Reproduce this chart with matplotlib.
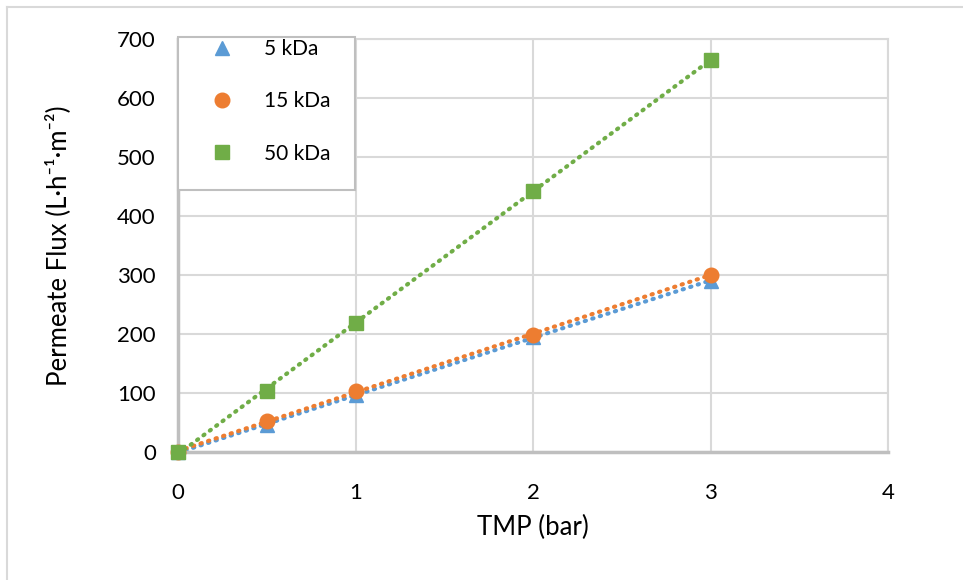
import numpy as np
import matplotlib.pyplot as plt
from matplotlib.lines import Line2D
from matplotlib.patches import Rectangle

plt.rcParams['font.family'] = ['Lato', 'DejaVu Sans']

# data
tmp = [0, 0.5, 1, 2, 3]
flux_5 = [0, 45, 97, 195, 290]
flux_15 = [0, 52, 104, 199, 300]
flux_50 = [0, 104, 218, 442, 665]
labels = ["5 kDa", "15 kDa", "50 kDa"]
colors = ["#5B9BD5", "#ED7D31", "#70AD47"]
markers = ["^", "o", "s"]

W, H = 963, 580
fig = plt.figure(figsize=(W / 100, H / 100), dpi=100)
ax = fig.add_axes([178 / W, 1 - 452 / H, (888 - 178) / W, (452 - 39) / H])

# light frame round the figure (top and left only)
fig.add_artist(Line2D([7 / W, 1], [1 - 7 / H, 1 - 7 / H], color="#d9d9d9", lw=1.5))
fig.add_artist(Line2D([7 / W, 7 / W], [0, 1 - 7 / H], color="#d9d9d9", lw=1.5))

series = [flux_5, flux_15, flux_50]
handles = []
for y, lab, c, m in zip(series, labels, colors, markers):
    # linear trendline
    k, b = np.polyfit(tmp, y, 1)
    xs = np.array([tmp[0], tmp[-1]])
    ax.plot(xs, k * xs + b, ls=(0, (0.3, 1.6)), lw=3, color=c,
            dash_capstyle="round", zorder=2)
    h, = ax.plot(tmp, y, ls="none", marker=m, ms=10.5, color=c, zorder=3,
                 label=lab, clip_on=False)
    handles.append(h)

ax.set_xlim(0, 4)
ax.set_ylim(0, 700)
ax.set_xticks([0, 1, 2, 3, 4])
ax.set_yticks(range(0, 701, 100))
ax.grid(True, color="#d9d9d9", lw=1.5)
ax.set_axisbelow(True)
for s in ["top", "right"]:
    ax.spines[s].set_color("#d9d9d9")
    ax.spines[s].set_linewidth(1.5)
for s in ["left", "bottom"]:
    ax.spines[s].set_color("#bfbfbf")
    ax.spines[s].set_linewidth(2.5)
ax.tick_params(axis="y", length=0, labelsize=16, pad=16)
ax.tick_params(axis="x", length=0, labelsize=16, pad=22)
ax.set_xlabel("TMP (bar)", fontsize=18.5, labelpad=9)
ax.set_ylabel("Permeate Flux (L·h⁻¹·m⁻²)", fontsize=18.5, labelpad=33)

# legend box (white, grey border) sitting over the top-left corner
box = Rectangle((0, 0.634), 0.249, 0.371, transform=ax.transAxes,
                facecolor="white", edgecolor="#bfbfbf", lw=1.5,
                zorder=4, clip_on=False)
ax.add_patch(box)
leg = ax.legend(handles=handles, loc="upper left", bbox_to_anchor=(0.03, 1.0),
                fontsize=15, frameon=False, borderpad=0, labelspacing=1.55,
                handletextpad=0.9, borderaxespad=0, handlelength=2.2)
leg.set_zorder(5)

fig.savefig("out.png", dpi=100)
plt.close()
